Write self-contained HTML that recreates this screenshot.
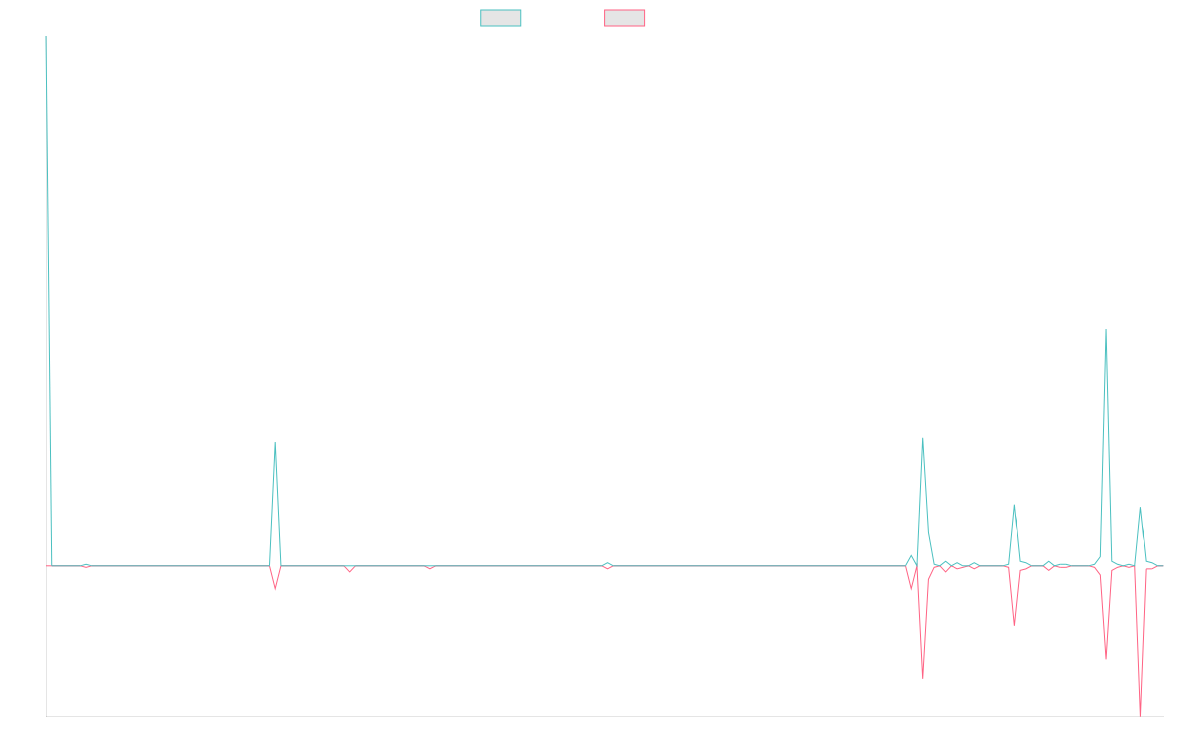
<!DOCTYPE html>
<html><head><meta charset="utf-8"><style>
html,body{margin:0;padding:0;background:#fff;width:1200px;height:750px;overflow:hidden}
#wrap{position:relative;width:1200px;height:750px;overflow:hidden;background:#fff}
#wrap svg{display:block;position:absolute;left:0;top:0}
#wrap svg.s2{transform:scale(0.5);transform-origin:0 0;will-change:transform}
</style></head><body>
<div id="wrap">
<svg class="s1" width="1200" height="750" viewBox="0 0 1200 750">
<rect x="480.75" y="10" width="40" height="16" fill="rgba(0,0,0,0.1)" stroke="rgb(75,192,192)" stroke-width="1"/>
<rect x="604.6" y="10" width="40" height="16" fill="rgba(0,0,0,0.1)" stroke="rgb(255,99,132)" stroke-width="1"/>
<line x1="46.5" y1="36" x2="46.5" y2="717" stroke="rgba(0,0,0,0.1)" stroke-width="1"/>
<line x1="46" y1="716.5" x2="1164" y2="716.5" stroke="rgba(0,0,0,0.1)" stroke-width="1"/>
<path fill="none" stroke-width="1" stroke-linejoin="miter" stroke-miterlimit="9.5" stroke="rgb(255,99,132)" d="M46.00 565.80H80.38M91.84 565.80H269.47M280.93 565.80H343.96M355.42 565.80H424.18M435.64 565.80H601.81M613.27 565.80H905.50M979.99 565.80H1002.91M1031.56 565.80H1043.02M1060.21 567.33H1065.94M1071.67 565.80H1088.86M1146.16 568.86H1151.89M1157.62 565.80H1163.35"/>
</svg>
<svg class="s2" width="2400" height="1500" viewBox="0 0 1200 750">
<polyline fill="none" stroke-width="1" stroke-linejoin="miter" stroke-miterlimit="9.5" stroke="rgb(255,99,132)" points="80.38,565.80 86.11,567.33 91.84,565.80"/><polyline fill="none" stroke-width="1" stroke-linejoin="miter" stroke-miterlimit="9.5" stroke="rgb(255,99,132)" points="269.47,565.80 275.20,588.72 280.93,565.80"/><polyline fill="none" stroke-width="1" stroke-linejoin="miter" stroke-miterlimit="9.5" stroke="rgb(255,99,132)" points="343.96,565.80 349.69,571.91 355.42,565.80"/><polyline fill="none" stroke-width="1" stroke-linejoin="miter" stroke-miterlimit="9.5" stroke="rgb(255,99,132)" points="424.18,565.80 429.91,568.86 435.64,565.80"/><polyline fill="none" stroke-width="1" stroke-linejoin="miter" stroke-miterlimit="9.5" stroke="rgb(255,99,132)" points="601.81,565.80 607.54,568.86 613.27,565.80"/><polyline fill="none" stroke-width="1" stroke-linejoin="miter" stroke-miterlimit="9.5" stroke="rgb(255,99,132)" points="905.50,565.80 911.23,588.72 916.96,565.80 922.69,678.87 928.42,579.30 934.15,567.33 939.88,565.80 945.61,571.91 951.34,565.80 957.07,568.86 962.80,567.33 968.53,565.80 974.26,568.86 979.99,565.80"/><polyline fill="none" stroke-width="1" stroke-linejoin="miter" stroke-miterlimit="9.5" stroke="rgb(255,99,132)" points="1002.91,565.80 1008.64,567.33 1014.37,625.80 1020.10,570.38 1025.83,568.86 1031.56,565.80"/><polyline fill="none" stroke-width="1" stroke-linejoin="miter" stroke-miterlimit="9.5" stroke="rgb(255,99,132)" points="1043.02,565.80 1048.75,570.38 1054.48,565.80 1060.21,567.33"/><polyline fill="none" stroke-width="1" stroke-linejoin="miter" stroke-miterlimit="9.5" stroke="rgb(255,99,132)" points="1065.94,567.33 1071.67,565.80"/><polyline fill="none" stroke-width="1" stroke-linejoin="miter" stroke-miterlimit="9.5" stroke="rgb(255,99,132)" points="1088.86,565.80 1094.59,567.33 1100.32,574.97 1106.05,659.40 1111.78,570.38 1117.51,567.33 1123.24,565.80 1128.97,567.33 1134.70,565.80 1140.43,716.70 1146.16,568.86"/><polyline fill="none" stroke-width="1" stroke-linejoin="miter" stroke-miterlimit="9.5" stroke="rgb(255,99,132)" points="1151.89,568.86 1157.62,565.80"/>
</svg>
<svg class="s1" width="1200" height="750" viewBox="0 0 1200 750">
<path fill="none" stroke-width="1" stroke-linejoin="miter" stroke-miterlimit="9.5" stroke="rgb(75,192,192)" d="M51.73 565.80H80.38M91.84 565.80H269.47M280.93 565.80H601.81M613.27 565.80H905.50M962.80 565.80H968.53M979.99 565.80H1002.91M1031.56 565.80H1043.02M1060.21 564.27H1065.94M1071.67 565.80H1088.86M1157.62 565.80H1163.35"/>
</svg>
<svg class="s2" width="2400" height="1500" viewBox="0 0 1200 750">
<polyline fill="none" stroke-width="1" stroke-linejoin="miter" stroke-miterlimit="9.5" stroke="rgb(75,192,192)" points="46.00,36.00 51.73,565.80"/><polyline fill="none" stroke-width="1" stroke-linejoin="miter" stroke-miterlimit="9.5" stroke="rgb(75,192,192)" points="80.38,565.80 86.11,564.27 91.84,565.80"/><polyline fill="none" stroke-width="1" stroke-linejoin="miter" stroke-miterlimit="9.5" stroke="rgb(75,192,192)" points="269.47,565.80 275.20,442.03 280.93,565.80"/><polyline fill="none" stroke-width="1" stroke-linejoin="miter" stroke-miterlimit="9.5" stroke="rgb(75,192,192)" points="601.81,565.80 607.54,562.74 613.27,565.80"/><polyline fill="none" stroke-width="1" stroke-linejoin="miter" stroke-miterlimit="9.5" stroke="rgb(75,192,192)" points="905.50,565.80 911.23,555.40 916.96,565.80 922.69,437.75 928.42,532.18 934.15,564.27 939.88,565.80 945.61,561.22 951.34,565.80 957.07,562.74 962.80,565.80"/><polyline fill="none" stroke-width="1" stroke-linejoin="miter" stroke-miterlimit="9.5" stroke="rgb(75,192,192)" points="968.53,565.80 974.26,562.74 979.99,565.80"/><polyline fill="none" stroke-width="1" stroke-linejoin="miter" stroke-miterlimit="9.5" stroke="rgb(75,192,192)" points="1002.91,565.80 1008.64,564.27 1014.37,504.68 1020.10,561.22 1025.83,562.74 1031.56,565.80"/><polyline fill="none" stroke-width="1" stroke-linejoin="miter" stroke-miterlimit="9.5" stroke="rgb(75,192,192)" points="1043.02,565.80 1048.75,561.22 1054.48,565.80 1060.21,564.27"/><polyline fill="none" stroke-width="1" stroke-linejoin="miter" stroke-miterlimit="9.5" stroke="rgb(75,192,192)" points="1065.94,564.27 1071.67,565.80"/><polyline fill="none" stroke-width="1" stroke-linejoin="miter" stroke-miterlimit="9.5" stroke="rgb(75,192,192)" points="1088.86,565.80 1094.59,564.27 1100.32,556.63 1106.05,328.96 1111.78,561.22 1117.51,564.27 1123.24,565.80 1128.97,564.27 1134.70,565.80 1140.43,507.20 1146.16,561.22 1151.89,562.74 1157.62,565.80"/>
</svg>
</div>
</body></html>
